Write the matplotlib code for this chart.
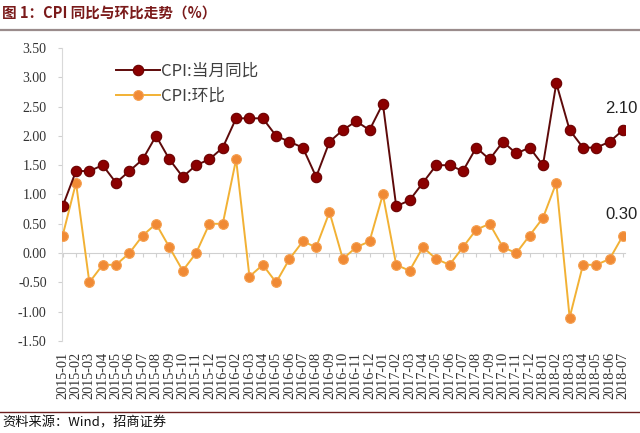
import matplotlib
matplotlib.use("Agg")
import matplotlib.pyplot as plt
from matplotlib.lines import Line2D

months = []
for yr in range(2015, 2019):
    for m in range(1, 13):
        months.append("%d-%02d" % (yr, m))
months = months[:43]  # 2015-01 .. 2018-07

# CPI year-on-year (%)
cpi_yoy = [0.8, 1.4, 1.4, 1.5, 1.2, 1.4, 1.6, 2.0, 1.6, 1.3, 1.5, 1.6,
           1.8, 2.3, 2.3, 2.3, 2.0, 1.9, 1.8, 1.3, 1.9, 2.1, 2.25, 2.1,
           2.55, 0.8, 0.9, 1.2, 1.5, 1.5, 1.4, 1.8, 1.6, 1.9, 1.7, 1.8,
           1.5, 2.9, 2.1, 1.8, 1.8, 1.9, 2.1]
# CPI month-on-month (%)
cpi_mom = [0.3, 1.2, -0.5, -0.2, -0.2, 0.0, 0.3, 0.5, 0.1, -0.3, 0.0, 0.5,
           0.5, 1.6, -0.4, -0.2, -0.5, -0.1, 0.2, 0.1, 0.7, -0.1, 0.1, 0.2,
           1.0, -0.2, -0.3, 0.1, -0.1, -0.2, 0.1, 0.4, 0.5, 0.1, 0.0, 0.3,
           0.6, 1.2, -1.1, -0.2, -0.2, -0.1, 0.3]

yticks = [-1.5, -1.0, -0.5, 0.0, 0.5, 1.0, 1.5, 2.0, 2.5, 3.0, 3.5]

cjk = ["Noto Sans CJK SC", "DejaVu Sans"]
serif = ["Liberation Serif", "DejaVu Serif"]

fig = plt.figure(figsize=(6.4, 4.33), dpi=100)
ax = fig.add_axes([62 / 640, 92 / 433, 563 / 640, 293 / 433])

x = list(range(len(months)))
ax.plot(x, cpi_mom, color="#F2B134", lw=1.4, marker="o", ms=7,
        mfc="#F08A35", mec="#F5A050", mew=0.8, label="CPI:环比", zorder=3)
ax.plot(x, cpi_yoy, color="#5E0A0A", lw=1.4, marker="o", ms=7.5,
        mfc="#8B0000", mec="#6A0000", mew=0.8, label="CPI:当月同比", zorder=4)

ax.set_ylim(-1.5, 3.5)
ax.set_xlim(-0.05, 42.15)
ax.set_yticks(yticks)
ax.set_yticklabels(["%.2f" % v for v in yticks], fontfamily=serif, fontsize=10,
                   color="#333333")
ax.set_xticks(x)
ax.set_xticklabels(months, rotation=90, fontfamily=serif, fontsize=10.3,
                   color="#333333")
ax.tick_params(axis="x", length=0, pad=8)
ax.tick_params(axis="y", length=3, color="#D0D0D0", pad=8)

for s in ["top", "right", "bottom"]:
    ax.spines[s].set_visible(False)
ax.spines["left"].set_color("#D9D9D9")

# zero line with category ticks
zax = ax.secondary_xaxis(0.3)
zax.set_xticks(x)
zax.set_xticklabels([])
zax.tick_params(length=3, color="#D0D0D0")
zax.spines["bottom"].set_color("#D0D0D0")

# legend
h, l = ax.get_legend_handles_labels()
leg = ax.legend(h[::-1], l[::-1], loc="upper left", bbox_to_anchor=(0.07, 1.0),
                frameon=False, prop={"family": cjk, "size": 12},
                handlelength=2.6, handletextpad=0.1, labelspacing=0.45,
                labelcolor="#404040")

# end annotations
for val in (cpi_yoy[-1], cpi_mom[-1]):
    ax.annotate("%.2f" % val, (x[-1], val), xytext=(-1, 12),
                textcoords="offset points", ha="center", fontsize=12,
                fontfamily=["Liberation Sans", "DejaVu Sans"], color="#222222")

# title, rules, source
fig.text(0.003, 1 - 13 / 433, "图 1：CPI 同比与环比走势（%）", ha="left", va="center",
         fontsize=10.5, fontweight="bold", family=cjk, color="#7A1A1A")
fig.add_artist(Line2D([0, 1], [1 - 30 / 433] * 2, color="#9A8C8C", lw=1.6))
fig.add_artist(Line2D([0, 1], [1 - 412 / 433] * 2, color="#6E2020", lw=1.0))
fig.text(0.003, 1 - 423 / 433, "资料来源：Wind，招商证券", ha="left", va="center",
         fontsize=9.5, family=cjk, color="#111111")

fig.savefig("out.png", dpi=100)
